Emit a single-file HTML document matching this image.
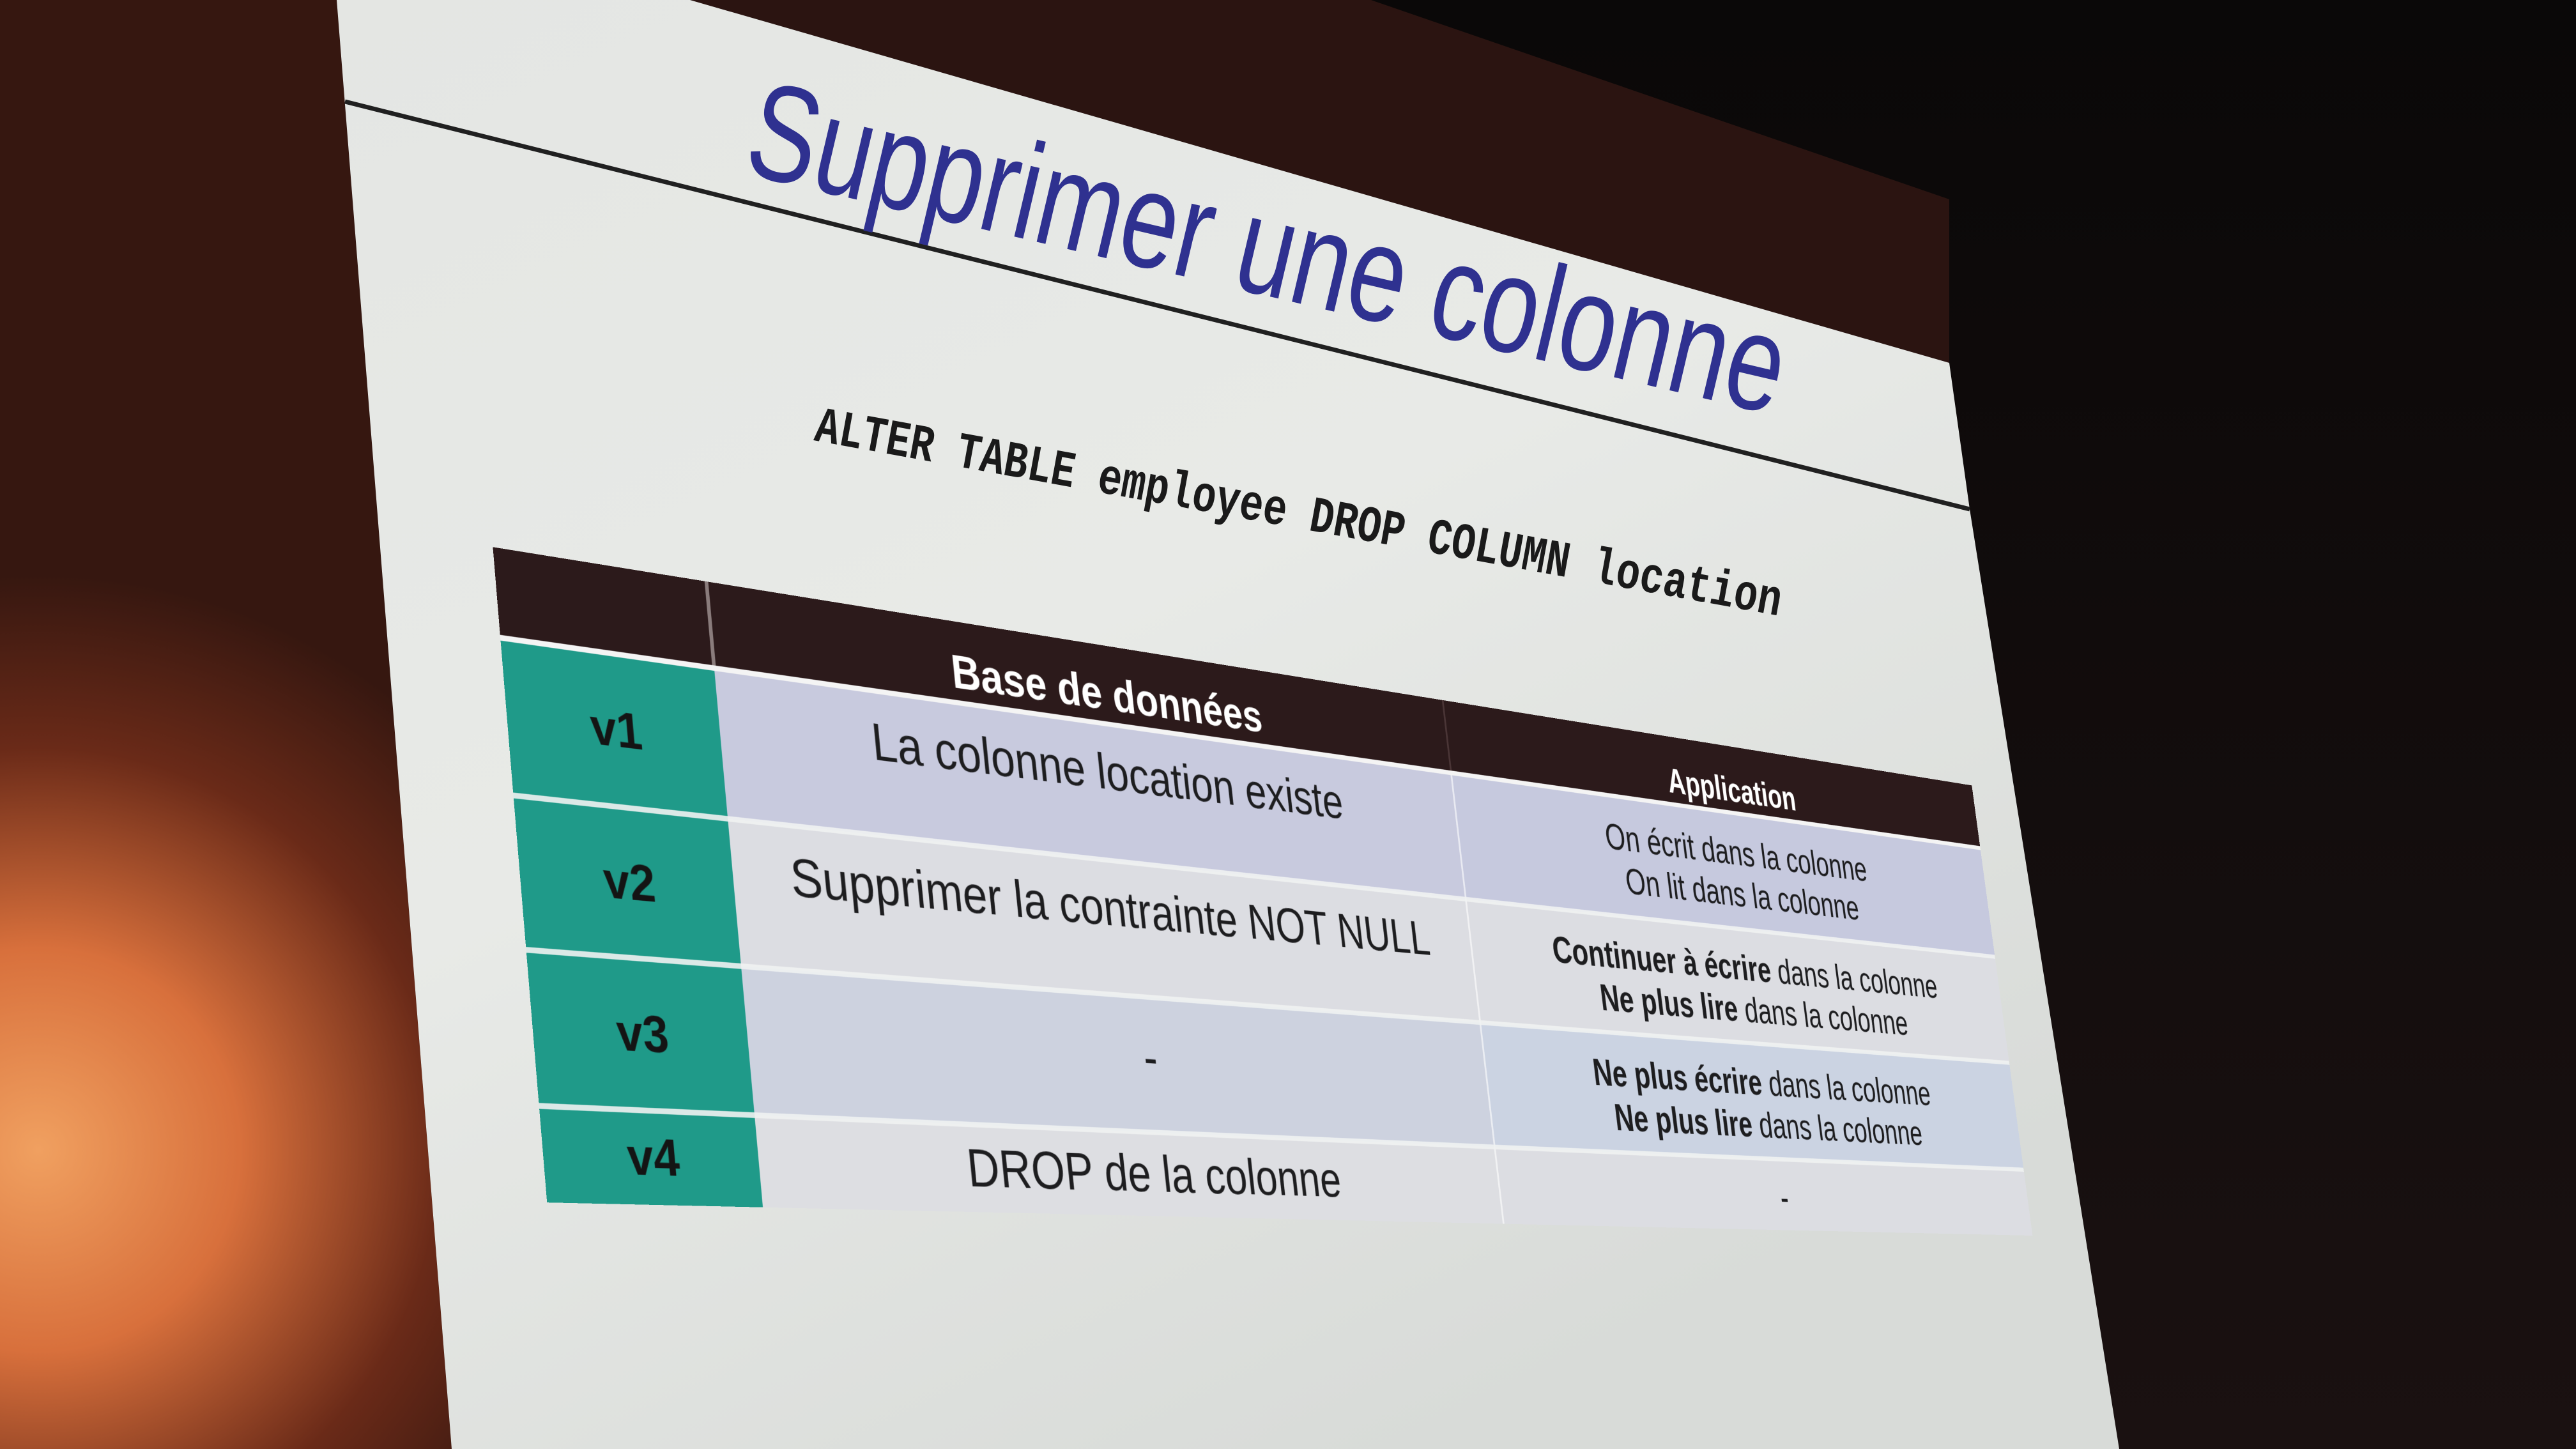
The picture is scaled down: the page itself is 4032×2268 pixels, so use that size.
<!DOCTYPE html>
<html><head><meta charset="utf-8"><title>Supprimer une colonne</title>
<style>
html,body{margin:0;padding:0;width:4032px;height:2268px;overflow:hidden;background:#0d0a0a;}
#bg{position:absolute;left:0;top:0;}
#table{position:absolute;left:0;top:0;width:3200px;height:900px;transform-origin:0 0;font-family:"Liberation Sans Narrow","Liberation Sans",sans-serif;}
#table div{position:absolute;box-sizing:border-box;}
.cell{display:flex;align-items:center;justify-content:center;text-align:center;color:#1d1d1f;}
</style></head>
<body>
<svg id="bg" width="4032" height="2268" viewBox="0 0 4032 2268">
<defs>
<radialGradient id="glow" cx="60" cy="1800" r="900" gradientUnits="userSpaceOnUse">
<stop offset="0" stop-color="#f0a060"/><stop offset="0.35" stop-color="#d8703c"/><stop offset="0.7" stop-color="#6a2a18"/><stop offset="1" stop-color="#361710"/>
</radialGradient>
<linearGradient id="slideg" x1="0" y1="0" x2="0.6" y2="1">
<stop offset="0" stop-color="#e4e6e3"/><stop offset="0.5" stop-color="#e8eae7"/><stop offset="1" stop-color="#d8dbd8"/>
</linearGradient>
<linearGradient id="rightg" x1="0" y1="0" x2="0" y2="1">
<stop offset="0" stop-color="#0a0808"/><stop offset="1" stop-color="#1a1111"/>
</linearGradient>
</defs>
<rect width="4032" height="2268" fill="url(#rightg)"/>
<polygon points="0,0 527,0 707,2268 0,2268" fill="url(#glow)"/>
<polygon points="1080,0 2146,0 3051,312 3051,568" fill="#2b1411"/>
<polygon points="527,0 1080,0 3051,568 3083,797 3317,2268 707,2268" fill="url(#slideg)"/>
<line x1="540" y1="159" x2="3083" y2="797" stroke="#202020" stroke-width="7"/>
<text x="1160" y="270" transform="rotate(13.2 1160 270)" font-family="Liberation Sans, sans-serif" font-size="215" fill="#2f3190" textLength="1660" lengthAdjust="spacingAndGlyphs">Supprimer une colonne</text>
<text x="1273" y="689" transform="rotate(10.3 1273 689)" font-family="Liberation Mono, monospace" font-weight="bold" font-size="80" fill="#1a1a1a" textLength="1536" lengthAdjust="spacingAndGlyphs">ALTER TABLE employee DROP COLUMN location</text>
</svg>
<div id="table"></div>
<script>
var versions=["v1","v2","v3","v4"];
var dbSteps=["La colonne location existe","Supprimer la contrainte NOT NULL","-","DROP de la colonne"];
var appSteps=[
 ["On écrit dans la colonne","On lit dans la colonne"],
 ["<b>Continuer à écrire</b> dans la colonne","<b>Ne plus lire</b> dans la colonne"],
 ["<b>Ne plus écrire</b> dans la colonne","<b>Ne plus lire</b> dans la colonne"],
 ["-"]
];
var headers=["Base de données","Application"];

var S=2.5714;
var W=3200,H=900;
var TL=[300*S,333*S],TR=[1200*S,478*S],BR=[1237*S,752*S],BL=[333*S,732*S];
function solve(A,b){var n=b.length;for(var i=0;i<n;i++){var m=i;for(var k=i+1;k<n;k++)if(Math.abs(A[k][i])>Math.abs(A[m][i]))m=k;var t=A[i];A[i]=A[m];A[m]=t;t=b[i];b[i]=b[m];b[m]=t;for(var k=i+1;k<n;k++){var f=A[k][i]/A[i][i];for(var j=i;j<n;j++)A[k][j]-=f*A[i][j];b[k]-=f*b[i];}}var x=new Array(n);for(var i=n-1;i>=0;i--){var s=b[i];for(var j=i+1;j<n;j++)s-=A[i][j]*x[j];x[i]=s/A[i][i];}return x;}
function homog(src,dst){var A=[],b=[];for(var i=0;i<4;i++){var x=src[i][0],y=src[i][1],u=dst[i][0],v=dst[i][1];A.push([x,y,1,0,0,0,-u*x,-u*y]);b.push(u);A.push([0,0,0,x,y,1,-v*x,-v*y]);b.push(v);}var h=solve(A,b);h.push(1);return h;}
function apply(h,x,y){var w=h[6]*x+h[7]*y+h[8];return [(h[0]*x+h[1]*y+h[2])/w,(h[3]*x+h[4]*y+h[5])/w];}
var flat=[[0,0],[W,0],[W,H],[0,H]],img=[TL,TR,BR,BL];
var Hm=homog(flat,img),Hi=homog(img,flat);
var tbl=document.getElementById('table');
tbl.style.transform='matrix3d('+[Hm[0],Hm[3],0,Hm[6],Hm[1],Hm[4],0,Hm[7],0,0,1,0,Hm[2],Hm[5],0,Hm[8]].join(',')+')';
function topX(dx){var dy=333+(478-333)*(dx-300)/900;return apply(Hi,dx*S,dy*S)[0];}
function leftY(dy){var dx=300+33*(dy-333)/399;return apply(Hi,dx*S,dy*S)[1];}
var c1=topX(430),c2=topX(878);
var rb=[leftY(388),leftY(484),leftY(578),leftY(673),H];
function box(name,x,y,w,h,bg){var d=document.createElement('div');


d.style.left=x+'px';d.style.top=y+'px';d.style.width=w+'px';d.style.height=h+'px';if(bg)d.style.background=bg;tbl.appendChild(d);return d;}
box('table-header-band',0,0,W,rb[0],'#2c1a1b');
box('header-divider',c1-3,0,6,rb[0],'#8a7c7c');
box('header-divider-2',c2-2,0,4,rb[0],'#4a3536');
var h1=box('header-database',c1,0,c2-c1,rb[0]);h1.className='cell';h1.style.color='#fff';h1.style.fontWeight='bold';h1.style.fontSize='74px';h1.style.paddingTop='30px';h1.innerHTML=headers[0];
var h2=box('header-application',c2,0,W-c2,rb[0]);h2.className='cell';h2.style.color='#fff';h2.style.fontWeight='bold';h2.style.fontSize='64px';h2.style.paddingTop='40px';h2.innerHTML=headers[1];
var dbCol=['#c8cade','#dcdde2','#cdd2df','#dddee2'];
var appCol=['#c6c9de','#dcdde2','#cbd3e2','#dcdde2'];
var dbAlign=[0.36,0.36,0.45,0.5];
for(var i=0;i<4;i++){
 var y0=rb[i],y1=rb[i+1],hh=y1-y0;
 var v=box('version-cell-'+versions[i],0,y0,c1,hh,'#1f9a89');v.className='cell';v.style.fontWeight='bold';v.style.fontSize='72px';v.style.color='#141414';v.innerHTML=versions[i];
 var d=box('db-cell-'+versions[i],c1,y0,c2-c1,hh,dbCol[i]);
 var t=document.createElement('div');
 
 
 t.style.left='0';t.style.width='100%';t.style.textAlign='center';t.style.fontSize='80px';t.style.color='#1d1d1f';t.style.lineHeight='90px';t.style.top=(hh*dbAlign[i]-45)+'px';t.textContent=dbSteps[i];d.appendChild(t);
 var a=box('app-cell-'+versions[i],c2,y0,W-c2,hh,appCol[i]);a.className='cell';a.style.fontSize='66px';a.style.lineHeight='78px';a.style.flexDirection='column';a.style.paddingTop='10px';
 a.innerHTML=appSteps[i].map(function(s){return '<span style="position:static">'+s+'</span>';}).join('');
 box('col-divider-'+versions[i],c2-2,y0,4,hh,'rgba(255,255,255,0.6)');
 box('row-separator-'+versions[i],0,y0-4,W,8,i==0?'#f4f4f4':'rgba(240,242,242,0.9)');
}
</script>
</body></html>
